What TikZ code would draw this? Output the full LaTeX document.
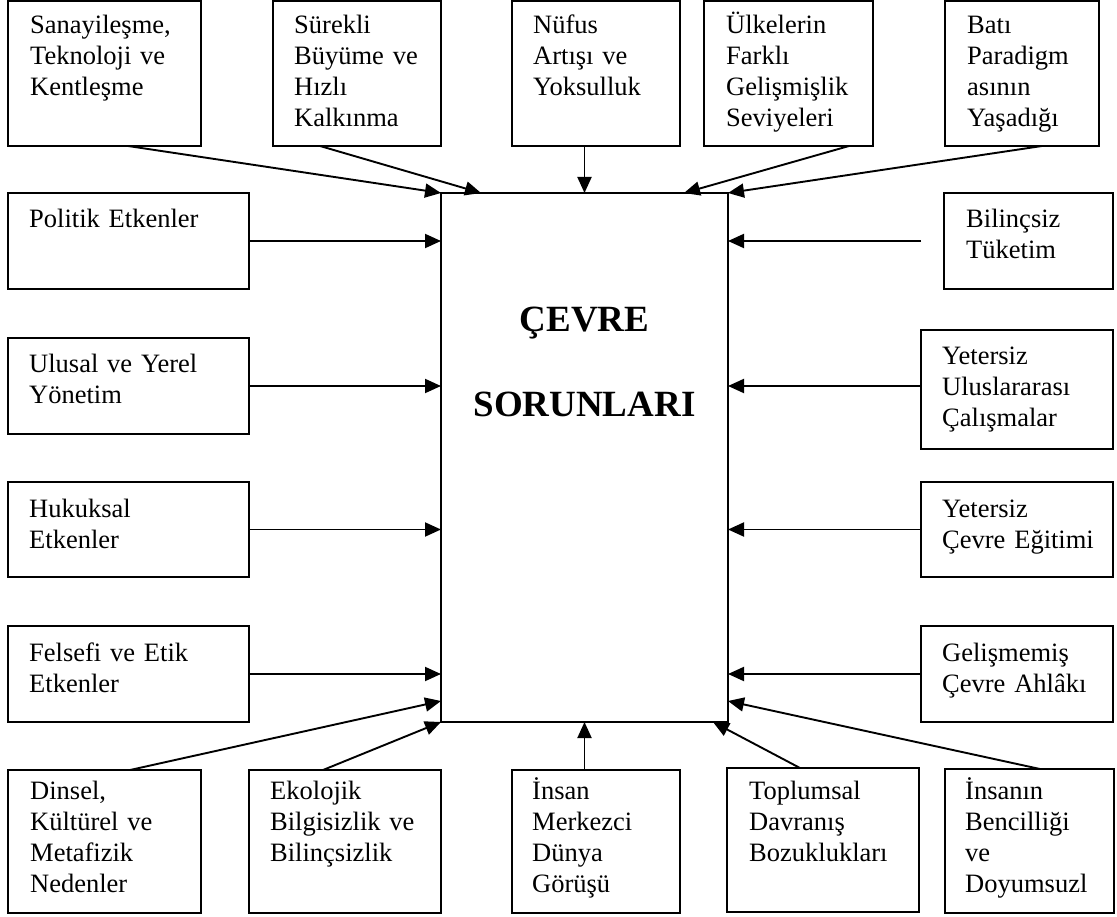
\documentclass[tikz,border=0pt]{standalone}
\usepackage{fontspec}
\setmainfont{Liberation Serif}
\usetikzlibrary{arrows.meta}
\begin{document}
\begin{tikzpicture}[x=1pt,y=-1pt,
  box/.style={draw, line width=1.9pt, inner sep=0pt, outer sep=0pt, anchor=north west},
  lbl/.style={anchor=base west, inner sep=0pt, text width=190pt, align=left,
              font=\fontsize{26.5}{31}\selectfont},
  title/.style={anchor=base, inner sep=0pt, font=\bfseries\fontsize{37}{44}\selectfont},
  arr/.style={line width=1.9pt, -{Triangle[length=16pt,width=14pt]}}
]
\useasboundingbox (0,0) rectangle (1117,917);

% central box
\node[box, minimum width=287pt, minimum height=529pt] (cen) at (441,193) {};
\node[title] (cevre) at ([yshift=-139pt]cen.north) {ÇEVRE};
\node[title] (sorun) at ([yshift=-224pt]cen.north) {SORUNLARI};

% top row
\node[box, minimum width=193pt, minimum height=145pt] (san) at (8,1) {};
\node[box, minimum width=168pt, minimum height=145pt] (sur) at (273,1) {};
\node[box, minimum width=168pt, minimum height=145pt] (nuf) at (512,1) {};
\node[box, minimum width=169pt, minimum height=145pt] (ulk) at (704,1) {};
\node[box, minimum width=154pt, minimum height=145pt] (bat) at (945,1) {};
\node[lbl] (tsan) at ([xshift=22pt,yshift=-33pt]san.north west) {Sanayileşme,\\Teknoloji ve\\Kentleşme};
\node[lbl] (tsur) at ([xshift=21pt,yshift=-33pt]sur.north west) {Sürekli\\Büyüme ve\\Hızlı\\Kalkınma};
\node[lbl] (tnuf) at ([xshift=21pt,yshift=-33pt]nuf.north west) {Nüfus\\Artışı ve\\Yoksulluk};
\node[lbl] (tulk) at ([xshift=22pt,yshift=-33pt]ulk.north west) {Ülkelerin\\Farklı\\Gelişmişlik\\Seviyeleri};
\node[lbl] (tbat) at ([xshift=22pt,yshift=-33pt]bat.north west) {Batı\\Paradigm\\asının\\Yaşadığı};

% left column
\node[box, minimum width=241pt, minimum height=96pt] (pol) at (8,193) {};
\node[box, minimum width=241pt, minimum height=96pt] (ulu) at (8,338) {};
\node[box, minimum width=241pt, minimum height=95pt] (huk) at (8,482) {};
\node[box, minimum width=241pt, minimum height=96pt] (fel) at (8,626) {};
\node[lbl] (tpol) at ([xshift=21pt,yshift=-35pt]pol.north west) {Politik Etkenler};
\node[lbl] (tulu) at ([xshift=21pt,yshift=-35pt]ulu.north west) {Ulusal ve Yerel\\Yönetim};
\node[lbl] (thuk) at ([xshift=21pt,yshift=-35pt]huk.north west) {Hukuksal\\Etkenler};
\node[lbl] (tfel) at ([xshift=21pt,yshift=-35pt]fel.north west) {Felsefi ve Etik\\Etkenler};

% right column
\node[box, minimum width=169pt, minimum height=96pt] (bil) at (944,193) {};
\node[box, minimum width=192pt, minimum height=119pt] (yeu) at (921,330) {};
\node[box, minimum width=192pt, minimum height=95pt] (yec) at (921,482) {};
\node[box, minimum width=192pt, minimum height=96pt] (gel) at (921,626) {};
\node[lbl] (tbil) at ([xshift=22pt,yshift=-35pt]bil.north west) {Bilinçsiz\\Tüketim};
\node[lbl] (tyeu) at ([xshift=21pt,yshift=-35pt]yeu.north west) {Yetersiz\\Uluslararası\\Çalışmalar};
\node[lbl] (tyec) at ([xshift=21pt,yshift=-35pt]yec.north west) {Yetersiz\\Çevre Eğitimi};
\node[lbl] (tgel) at ([xshift=21pt,yshift=-35pt]gel.north west) {Gelişmemiş\\Çevre Ahlâkı};

% bottom row
\node[box, minimum width=193pt, minimum height=143pt] (din) at (8,770) {};
\node[box, minimum width=192pt, minimum height=143pt] (eko) at (249,770) {};
\node[box, minimum width=168pt, minimum height=143pt] (ins) at (512,770) {};
\node[box, minimum width=192pt, minimum height=144pt] (tpl) at (727,768) {};
\node[box, minimum width=169pt, minimum height=144pt] (ina) at (945,769) {};
\node[lbl] (tdin) at ([xshift=22pt,yshift=-29pt]din.north west) {Dinsel,\\Kültürel ve\\Metafizik\\Nedenler};
\node[lbl] (teko) at ([xshift=21pt,yshift=-29pt]eko.north west) {Ekolojik\\Bilgisizlik ve\\Bilinçsizlik};
\node[lbl] (tins) at ([xshift=20pt,yshift=-29pt]ins.north west) {İnsan\\Merkezci\\Dünya\\Görüşü};
\node[lbl] (ttpl) at ([xshift=22pt,yshift=-31pt]tpl.north west) {Toplumsal\\Davranış\\Bozuklukları};
\node[lbl] (tina) at ([xshift=20pt,yshift=-30pt]ina.north west) {İnsanın\\Bencilliği\\ve\\Doyumsuzl};

% arrows from the top row
\draw[arr] ([xshift=23.5pt]san.south) -- (cen.north west);
\draw[arr] ([xshift=-37pt]sur.south) -- ([xshift=40pt]cen.north west);
\draw[arr] (cen.north |- nuf.south) -- (cen.north);
\draw[arr] ([xshift=60.5pt]ulk.south) -- ([xshift=-44pt]cen.north east);
\draw[arr] ([xshift=20pt]bat.south) -- (cen.north east);

% arrows from the left column
\draw[arr] (pol.east) -- (pol.east -| cen.west);
\draw[arr] (ulu.east) -- (ulu.east -| cen.west);
\draw[arr] (huk.east) -- (huk.east -| cen.west);
\draw[arr] (fel.east) -- (fel.east -| cen.west);

% arrows from the right column
\draw[arr] ([xshift=-23pt]bil.west) -- (bil.west -| cen.east);
\draw[arr] ([yshift=3.5pt]yeu.west) -- ([yshift=3.5pt]yeu.west -| cen.east);
\draw[arr] (yec.west) -- (yec.west -| cen.east);
\draw[arr] (gel.west) -- (gel.west -| cen.east);

% arrows from the bottom row
\draw[arr] ([xshift=25.5pt]din.north) -- ([yshift=21pt]cen.south west);
\draw[arr] ([xshift=-22pt]eko.north) -- (cen.south west);
\draw[arr] (cen.south |- ins.north) -- (cen.south);
\draw[arr] ([xshift=-23pt]tpl.north) -- ([xshift=-15pt]cen.south east);
\draw[arr] ([xshift=10.5pt]ina.north) -- ([yshift=21pt]cen.south east);
\end{tikzpicture}
\end{document}
